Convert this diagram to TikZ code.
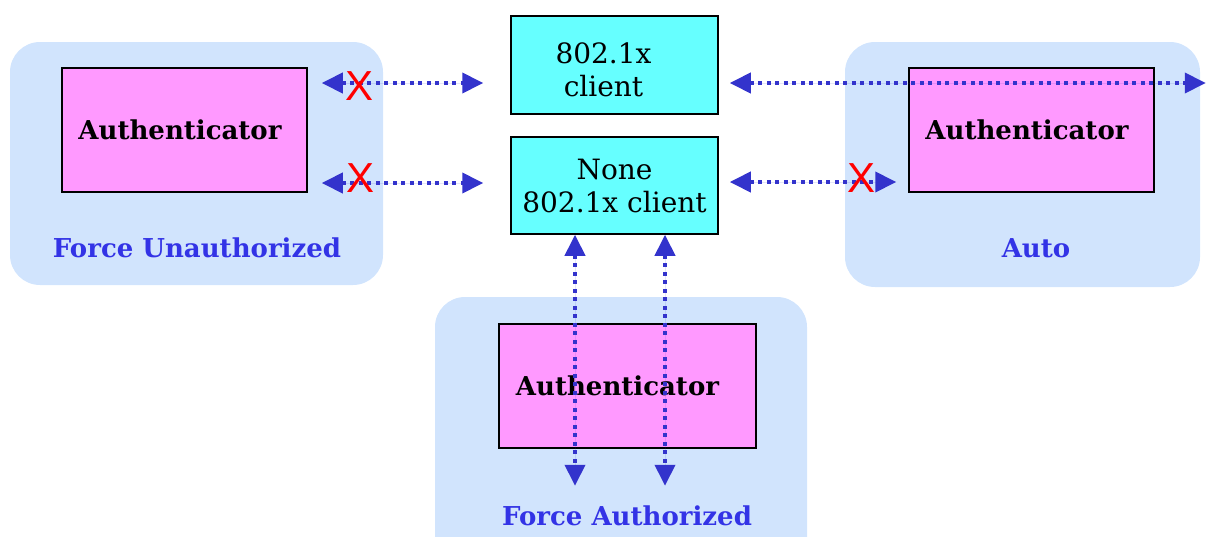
\documentclass[tikz,border=0pt]{standalone}
\usepackage{fontspec}
\setmainfont{DejaVu Serif}
\newfontfamily\crossfont{Liberation Sans}
\usetikzlibrary{arrows.meta,calc}
\definecolor{groupblue}{RGB}{209,228,253}
\definecolor{clientcyan}{RGB}{102,255,255}
\definecolor{authpink}{RGB}{255,153,255}
\definecolor{arrowblue}{RGB}{51,51,204}
\definecolor{labelblue}{RGB}{51,51,230}
\definecolor{crossred}{RGB}{255,0,0}
\tikzset{
  groupbox/.style={fill=groupblue, rounded corners=30pt, inner sep=0pt},
  authbox/.style={draw=black, fill=authpink, line width=1.5pt,
    minimum width=245pt, minimum height=124pt, text=black,
    font=\fontsize{26}{30}\selectfont\bfseries},
  clientbox/.style={draw=black, fill=clientcyan, line width=1.5pt, align=center,
    minimum width=207pt, minimum height=98pt, text=black,
    font=\fontsize{28}{33}\selectfont},
  grouplabel/.style={anchor=base, text=labelblue, font=\fontsize{26}{30}\selectfont\bfseries},
  cross/.style={text=crossred, inner sep=0pt, font=\crossfont\fontsize{42}{42}\selectfont},
  dotarrow/.style={{Triangle[length=21pt,width=20pt]}-{Triangle[length=21pt,width=20pt]},
    draw=arrowblue, fill=arrowblue, line width=4pt, dash pattern=on 4pt off 4.5pt}
}
\begin{document}
\begin{tikzpicture}[x=1pt,y=-1pt]
  \useasboundingbox (0,0) rectangle (1209,536);

  % mode groups
  \path[groupbox] (10,42) rectangle (383,285);
  \path[groupbox] (845,42) rectangle (1200,287);
  \path[groupbox] (435,297) rectangle (807,580);

  \node[authbox] (authunauth) at (184.5,130) {Authenticator\hspace*{9pt}};
  \node[authbox] (authauto) at (1031.5,130) {Authenticator\hspace*{9pt}};
  \node[authbox, minimum width=257pt] (authauth) at (627.5,386) {Authenticator\hspace*{20pt}};

  \node[clientbox] (client) at (614.5,65)
    {\rule{0pt}{30pt}802.1x\hspace*{22pt}\\client\hspace*{22pt}};
  \node[clientbox, minimum height=97pt] (noclient) at (614.5,185.5) {None\\802.1x client};

  \node[grouplabel] (lblunauth) at (197,257) {Force Unauthorized};
  \node[grouplabel] (lblauto) at (1036,257) {Auto};
  \node[grouplabel] (lblauth) at (627,525) {Force Authorized};

  % connections
  \draw[dotarrow] ($(authunauth.east)+(14,-47)$) -- ($(client.west)+(-27,18)$);
  \draw[dotarrow] ($(authunauth.east)+(14,53)$) -- ($(noclient.west)+(-27,-2.5)$);
  \draw[dotarrow] ($(client.east)+(11,18)$) -- ($(authauto.east)+(51,-47)$);
  \draw[dotarrow] ($(noclient.east)+(11,-3.5)$) -- ($(authauto.west)+(-12,52)$);
  \draw[dotarrow] ($(noclient.south)+(-39.5,0)$) -- ($(authauth.south)+(-52.5,37)$);
  \draw[dotarrow] ($(noclient.south)+(50.5,0)$) -- ($(authauth.south)+(37.5,37)$);

  % blocked links
  \node[cross] (crossclient) at (360,86) {X};
  \node[cross] (crossnone) at (361,178) {X};
  \node[cross] (crossauto) at (861,178) {X};
\end{tikzpicture}
\end{document}
